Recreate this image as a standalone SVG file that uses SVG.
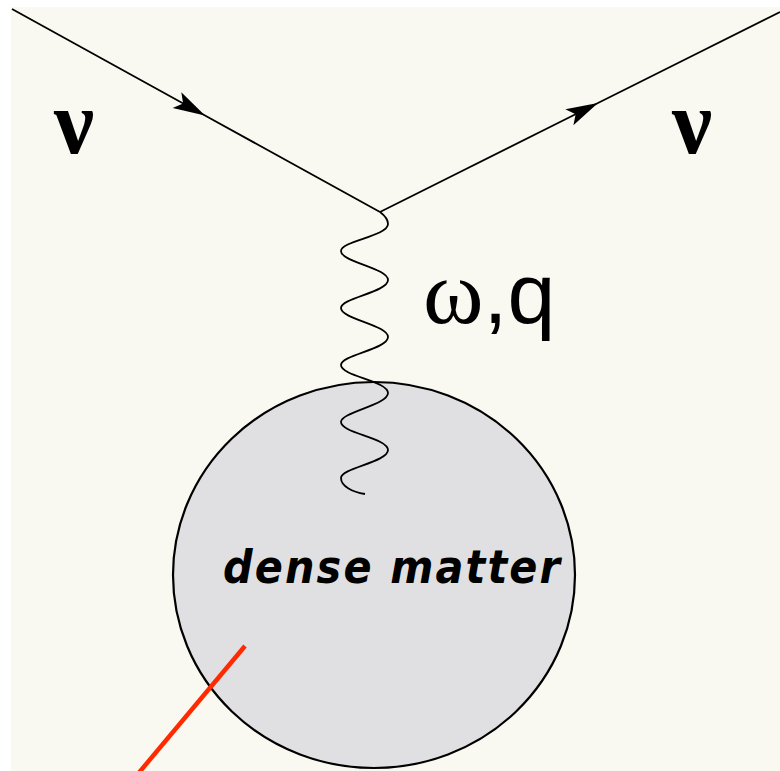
<svg xmlns="http://www.w3.org/2000/svg" width="780" height="771" viewBox="0 0 780 771">
<style>
.ln{fill:none;stroke:#000;stroke-width:1.8}
.nu{font-family:"Liberation Serif","Times New Roman",serif;font-size:90px;font-weight:bold;fill:#000}
</style>
<defs>
<marker id="arr" markerUnits="userSpaceOnUse" orient="auto" markerWidth="40" markerHeight="24" viewBox="-34 -12 40 24" refX="0" refY="0" overflow="visible">
<path d="M0,0 L-32,-9 L-25,0 L-32,9 Z" fill="#000"/>
</marker>
</defs>
<rect x="0" y="0" width="780" height="771" fill="#fff"/>
<rect x="11" y="7" width="769" height="764" fill="#f9f9f1"/>
<g id="matter">
<ellipse cx="374" cy="575" rx="201" ry="193" fill="#e0e0e2" stroke="#000" stroke-width="2.2"/>
<text x="223" y="583" font-family="'DejaVu Sans Condensed','DejaVu Sans',sans-serif" font-size="46" font-weight="bold" font-style="italic" textLength="337" lengthAdjust="spacing" fill="#000">dense matter</text>
</g>
<g id="connectors">
<path class="ln" d="M12,9 L205,115.5 L380,212" marker-mid="url(#arr)"/>
<path class="ln" d="M380,212 L598,103 L780,12" marker-mid="url(#arr)"/>
<path class="ln" stroke-width="2.2" d="M380,212 C384,215 388,219 388,224 C388,236 341,241 341,251 C341,262 388,268 388,280 C388,292 341,298 341,308 C341,319 388,325 388,337 C388,349 341,355 341,365 C341,376 388,381 388,393 C388,405 341,412 341,422 C341,433 388,438 388,450 C388,462 341,468 341,478 C341,486 352,492 365,494"/>
<line x1="245" y1="646" x2="137" y2="775" stroke="#ff2a00" stroke-width="4.5"/>
</g>
<g id="labels">
<text class="nu" x="54" y="153">ν</text>
<text class="nu" x="672" y="153">ν</text>
<text x="423" y="323" fill="#000"><tspan font-family="'Liberation Serif','Times New Roman',serif" font-size="92">ω</tspan><tspan font-family="'Liberation Sans',Arial,sans-serif" font-size="86">,q</tspan></text>
</g>
</svg>
